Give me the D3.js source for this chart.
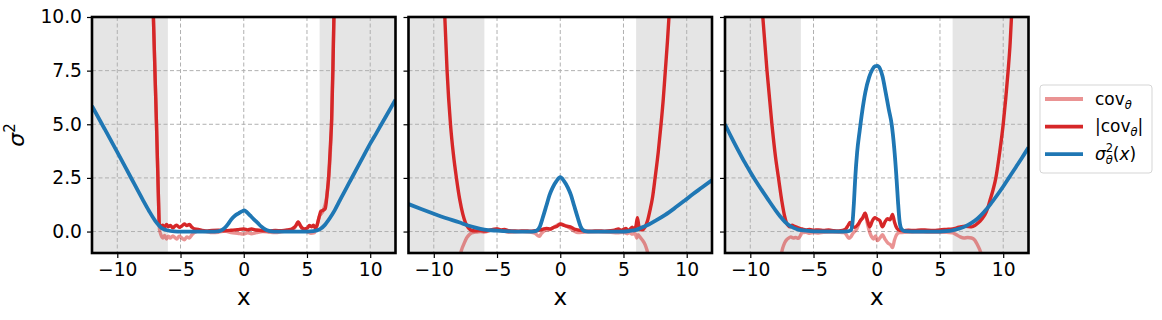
<!DOCTYPE html>
<html>
<head>
<meta charset="utf-8">
<script src="https://cdn.jsdelivr.net/npm/d3@7"></script>
<style>
	body { margin: 0; background: #fff; }
	svg { display: block; font-family: "DejaVu Sans", sans-serif; }
</style>
</head>
<body>
<svg id="chart" width="1162" height="320"></svg>
<script>
// ticks + shaded areas
const xTicks = [-10, -5, 0, 5, 10];
const yTicks = [0, 2.5, 5, 7.5, 10];
const shadeBands = [[-12, -6], [6, 12]];

// panel 1
const sigmaA = [[-12,5.85],[-11,4.78],[-10,3.7],[-9,2.6],[-8,1.5],[-7.5,0.97],[-7,0.5],[-6.5,0.17],[-6,0.05],[-5.5,0.01],[-5,0],[-2.5,0],
	[-2.1,0.01],[-1.8,0.05],[-1.5,0.17],[-1.2,0.38],[-1.0,0.56],[-0.7,0.74],[-0.4,0.85],[-0.15,0.94],[0.05,0.99],[0.25,0.9],[0.5,0.75],[0.8,0.57],
	[1.1,0.4],[1.4,0.23],[1.7,0.1],[2.0,0.03],[2.4,0],[5,0],[5.5,0.02],[6,0.1],[6.4,0.3],[6.8,0.62],[7.2,1.0],[7.6,1.45],[8,1.9],[8.5,2.45],
	[9,3.0],[9.5,3.55],[10,4.1],[10.5,4.6],[11,5.12],[11.5,5.63],[12,6.15]];
const absCovA = [[-7.16,10.3],[-7.0,7.0],[-6.9,5.0],[-6.8,2.8],[-6.72,1.0],[-6.68,0.35],[-6.55,0.25],[-6.4,0.3],[-6.25,0.2],[-6.1,0.33],
	[-5.95,0.22],[-5.8,0.28],[-5.6,0.17],[-5.45,0.25],[-5.3,0.3],[-5.1,0.2],[-4.9,0.26],[-4.7,0.35],[-4.5,0.28],[-4.3,0.33],[-4.1,0.2],
	[-3.9,0.12],[-3.6,0.1],[-3.3,0.05],[-3.0,0.03],[-2.5,0.05],[-2.0,0.06],[-1.5,0.04],[-1.0,0.06],[-0.5,0.09],[0,0.12],[0.3,0.08],[0.6,0.12],
	[1.0,0.07],[1.5,0.04],[2.0,0.03],[2.5,0.05],[3.0,0.04],[3.5,0.08],[3.8,0.12],[4.0,0.2],[4.15,0.3],[4.3,0.45],[4.45,0.3],[4.6,0.18],
	[4.8,0.12],[5.0,0.15],[5.2,0.28],[5.35,0.22],[5.5,0.3],[5.65,0.18],[5.8,0.3],[5.95,0.65],[6.1,0.95],[6.3,1.0],[6.45,1.08],[6.6,1.8],
	[6.72,2.6],[6.85,4.0],[6.95,5.2],[7.05,7.5],[7.14,10.3]];
const covA = [[-7.16,10.3],[-6.9,5.0],[-6.72,1.0],[-6.66,0.1],[-6.55,-0.15],[-6.4,-0.3],[-6.25,-0.18],[-6.1,-0.35],[-5.95,-0.22],[-5.8,-0.3],
	[-5.6,-0.2],[-5.45,-0.28],[-5.3,-0.35],[-5.1,-0.22],[-4.9,-0.3],[-4.7,-0.38],[-4.5,-0.25],[-4.3,-0.3],[-4.1,-0.15],[-3.9,-0.05],[-3.5,0.02],
	[-3.0,0],[-2.5,-0.05],[-2.0,-0.03],[-1.5,0.02],[-1.0,-0.05],[-0.5,-0.08],[0,-0.12],[0.3,-0.06],[0.6,-0.1],[1.0,-0.05],[1.5,0],[2.0,-0.03],
	[2.5,-0.05],[3.0,0],[3.5,0.05],[4.0,0.15],[4.3,0.45],[4.6,0.15],[5.0,0.0],[5.3,-0.08],[5.6,-0.05],[5.8,0.3],[5.95,0.65],[6.3,1.0],
	[6.6,1.8],[6.95,5.2],[7.14,10.3]];

// panel 2
const sigmaB = [[-12,1.28],[-11,1.05],[-10,0.83],[-9,0.62],[-8,0.43],[-7.3,0.28],[-6.7,0.18],[-6,0.09],[-5,0.04],[-4,0.01],[-3,0],[-2.2,0],
	[-1.9,0.03],[-1.6,0.25],[-1.37,0.67],[-1.1,1.2],[-0.85,1.7],[-0.6,2.05],[-0.3,2.35],[0,2.53],[0.3,2.35],[0.6,2.05],[0.85,1.7],[1.1,1.2],
	[1.37,0.67],[1.6,0.25],[1.9,0.03],[2.2,0],[5,0],[5.5,0.03],[6,0.08],[6.4,0.18],[7,0.33],[7.6,0.53],[8.3,0.78],[9,1.07],[9.85,1.45],
	[10.5,1.75],[11.2,2.05],[12,2.4]];
const absCovB = [[-9.15,10.3],[-8.95,7.5],[-8.68,5.0],[-8.45,3.6],[-8.21,2.5],[-7.95,1.5],[-7.7,0.8],[-7.5,0.42],[-7.3,0.2],[-7.1,0.08],
	[-6.7,0.03],[-6.3,0.05],[-6.0,0.02],[-5.6,0.06],[-5.3,0.1],[-5.0,0.12],[-4.7,0.08],[-4.4,0.1],[-4.1,0.04],[-3.7,0.03],[-3.3,0.02],
	[-2.8,0.03],[-2.4,0.02],[-2.0,0.04],[-1.7,0.06],[-1.4,0.1],[-1.1,0.15],[-0.8,0.12],[-0.5,0.2],[-0.25,0.25],[0,0.35],[0.25,0.3],[0.5,0.25],
	[0.8,0.22],[1.1,0.12],[1.4,0.08],[1.7,0.04],[2.0,0.02],[2.5,0.02],[3,0.03],[3.5,0.02],[4.0,0.04],[4.3,0.07],[4.6,0.12],[4.8,0.06],
	[5.0,0.1],[5.2,0.15],[5.35,0.05],[5.5,0.1],[5.7,0.2],[5.85,0.05],[6.0,0.3],[6.1,0.65],[6.2,0.3],[6.3,0.1],[6.5,0.08],[6.7,0.2],
	[6.9,0.5],[7.1,1.0],[7.3,1.6],[7.5,2.5],[7.75,3.7],[7.97,5.0],[8.15,6.2],[8.31,7.5],[8.47,8.8],[8.63,10.3]];
const covB = [[-7.95,-1.2],[-7.8,-0.85],[-7.6,-0.55],[-7.4,-0.3],[-7.2,-0.15],[-7.0,-0.06],[-6.7,-0.03],[-6.3,0.0],[-6.0,-0.02],[-5.6,0.04],
	[-5.3,0.1],[-5.0,0.12],[-4.7,0.05],[-4.4,0.02],[-4.1,-0.03],[-3.7,-0.02],[-3,0],[-2.4,-0.02],[-2.0,-0.08],[-1.8,-0.18],[-1.65,-0.22],
	[-1.5,-0.1],[-1.2,0.05],[-0.8,0.1],[-0.5,0.2],[0,0.35],[0.5,0.25],[0.8,0.15],[1.1,0.02],[1.4,-0.05],[1.7,-0.04],[2.0,-0.02],[3,-0.01],
	[4.0,-0.03],[4.5,-0.06],[5.0,-0.04],[5.3,-0.1],[5.5,-0.05],[5.7,-0.12],[5.9,-0.08],[6.05,-0.3],[6.15,-0.15],[6.3,-0.25],[6.5,-0.4],
	[6.7,-0.6],[6.85,-0.85],[7.0,-1.2]];

// panel 3
const sigmaC = [[-12,5.0],[-11.5,4.4],[-11,3.83],[-10.5,3.28],[-10,2.78],[-9.5,2.3],[-9,1.85],[-8.6,1.5],[-8,0.99],[-7.6,0.68],[-7.26,0.45],
	[-6.8,0.24],[-6.3,0.11],[-5.8,0.05],[-5,0.01],[-3,0],[-2.3,0.01],[-2.05,0.06],[-1.92,0.4],[-1.8,1.4],[-1.7,2.5],[-1.55,3.7],[-1.35,4.7],
	[-1.15,5.6],[-0.9,6.5],[-0.6,7.2],[-0.35,7.55],[-0.15,7.7],[0.05,7.72],[0.25,7.6],[0.45,7.25],[0.7,6.5],[0.95,5.7],[1.18,5.0],[1.38,3.9],
	[1.55,2.6],[1.68,1.4],[1.8,0.5],[1.95,0.12],[2.2,0.02],[2.8,0],[5,0],[5.5,0.02],[6,0.06],[6.5,0.13],[7,0.24],[7.5,0.4],[8,0.62],
	[8.5,0.92],[9,1.28],[9.5,1.68],[10,2.1],[10.5,2.55],[11,3.0],[11.5,3.45],[12,3.92]];
const absCovC = [[-9.05,10.3],[-8.68,7.5],[-8.29,5.0],[-8.0,3.45],[-7.77,2.5],[-7.5,1.4],[-7.3,0.75],[-7.15,0.42],[-7.0,0.28],
	[-6.85,0.22],[-6.7,0.3],[-6.5,0.24],[-6.3,0.2],[-6.1,0.15],[-5.9,0.12],[-5.6,0.08],[-5.3,0.1],[-5.0,0.06],[-4.6,0.08],[-4.2,0.05],
	[-3.8,0.07],[-3.4,0.04],[-3.0,0.03],[-2.7,0.05],[-2.45,0.12],[-2.25,0.3],[-2.1,0.42],[-1.95,0.25],[-1.75,0.2],[-1.5,0.32],[-1.3,0.5],
	[-1.1,0.65],[-0.92,0.85],[-0.75,0.55],[-0.55,0.22],[-0.35,0.5],[-0.15,0.65],[0.05,0.58],[0.25,0.5],[0.45,0.22],[0.65,0.45],[0.85,0.6],
	[1.05,0.55],[1.25,0.8],[1.4,0.45],[1.6,0.15],[1.8,0.06],[2.1,0.04],[2.5,0.06],[3,0.05],[3.5,0.08],[4,0.06],[4.5,0.05],[5,0.08],
	[5.5,0.1],[6,0.12],[6.5,0.2],[7,0.25],[7.5,0.22],[7.8,0.3],[8.05,0.42],[8.3,0.58],[8.55,0.78],[8.75,1.05],[8.95,1.45],[9.2,1.95],
	[9.42,2.5],[9.7,3.6],[10.0,5.0],[10.2,6.2],[10.39,7.5],[10.55,8.8],[10.68,10.3]];
const covC = [[-7.6,-1.2],[-7.45,-0.8],[-7.3,-0.55],[-7.15,-0.4],[-7.0,-0.32],[-6.8,-0.25],[-6.6,-0.3],[-6.4,-0.28],[-6.2,-0.32],[-6.05,-0.2],
	[-5.9,-0.05],[-5.6,-0.04],[-5.3,-0.08],[-5.0,-0.05],[-4.6,-0.07],[-4.2,-0.03],[-3.5,-0.02],[-3.0,-0.03],[-2.6,-0.05],[-2.4,-0.15],
	[-2.2,-0.32],[-2.05,-0.25],[-1.9,-0.1],[-1.6,0.1],[-1.3,0.5],[-1.1,0.65],[-0.92,0.85],[-0.75,0.4],[-0.55,-0.05],[-0.4,-0.25],[-0.25,-0.35],
	[-0.1,-0.2],[0.05,-0.42],[0.25,-0.3],[0.45,-0.15],[0.65,-0.35],[0.9,-0.55],[1.1,-0.62],[1.25,-0.75],[1.4,-0.4],[1.6,-0.12],[1.8,-0.05],
	[2.2,-0.03],[3,-0.02],[4,-0.03],[5,-0.04],[5.5,-0.03],[6,-0.06],[6.3,-0.15],[6.6,-0.25],[6.9,-0.3],[7.2,-0.28],[7.5,-0.3],[7.75,-0.4],
	[7.95,-0.6],[8.15,-0.85],[8.35,-1.2]];

const panels = [
	{ sigma: sigmaA, abs: absCovA, cov: covA },
	{ sigma: sigmaB, abs: absCovB, cov: covB },
	{ sigma: sigmaC, abs: absCovC, cov: covC }
];

const RED = "#d62728", BLUE = "#1f77b4";
const lefts = [92, 408.5, 725];
const pw = 303.5, plotTop = 17, plotBottom = 253;

const svg = d3.select("#chart");
const y = d3.scaleLinear().domain([-1, 10]).range([plotBottom, plotTop]);

panels.forEach(function(p, i) {
	const x = d3.scaleLinear().domain([-12, 12]).range([lefts[i], lefts[i] + pw]);
	const g = svg.append("g");

	g.append("clipPath").attr("id", "clip" + i)
		.append("rect").attr("x", lefts[i]).attr("y", plotTop).attr("width", pw).attr("height", plotBottom - plotTop);

	// grey bands outside |x|>6
	g.selectAll("rect.band").data(shadeBands).join("rect")
		.attr("class", "band")
		.attr("x", d => x(d[0])).attr("width", d => x(d[1]) - x(d[0]))
		.attr("y", plotTop).attr("height", plotBottom - plotTop)
		.attr("fill", "#e5e5e5");

	// grid
	g.selectAll("line.gx").data(xTicks).join("line")
		.attr("x1", d => x(d)).attr("x2", d => x(d)).attr("y1", plotTop).attr("y2", plotBottom)
		.attr("stroke", "#b0b0b0").attr("stroke-width", 1).attr("stroke-dasharray", "4,2.5");
	g.selectAll("line.gy").data(yTicks).join("line")
		.attr("x1", lefts[i]).attr("x2", lefts[i] + pw).attr("y1", d => y(d)).attr("y2", d => y(d))
		.attr("stroke", "#b0b0b0").attr("stroke-width", 1).attr("stroke-dasharray", "4,2.5");

	const line = d3.line().x(d => x(d[0])).y(d => y(d[1])).curve(d3.curveMonotoneX);
	const lines = g.append("g").attr("clip-path", "url(#clip" + i + ")");
	lines.append("path").datum(p.cov).attr("d", line)
		.attr("fill", "none").attr("stroke", RED).attr("stroke-opacity", 0.5).attr("stroke-width", 3.4)
		.attr("stroke-linejoin", "round");
	lines.append("path").datum(p.abs).attr("d", line)
		.attr("fill", "none").attr("stroke", RED).attr("stroke-width", 3.4).attr("stroke-linejoin", "round");
	lines.append("path").datum(p.sigma).attr("d", line)
		.attr("fill", "none").attr("stroke", BLUE).attr("stroke-width", 3.8).attr("stroke-linejoin", "round");

	// axes
	const xAxis = d3.axisBottom(x).tickValues(xTicks).tickSize(5).tickPadding(5)
		.tickFormat(d => d < 0 ? "\u2212" + Math.abs(d) : d);
	const ax = g.append("g").attr("transform", `translate(0,${plotBottom})`).call(xAxis);
	const yAxis = d3.axisLeft(y).tickValues(yTicks).tickSize(5).tickPadding(5)
		.tickFormat(i == 0 ? d3.format(".1f") : () => "");
	const ay = g.append("g").attr("transform", `translate(${lefts[i]},0)`).call(yAxis);
	[ax, ay].forEach(function(a) {
		a.select(".domain").remove();
		a.selectAll(".tick line").attr("stroke", "#000").attr("stroke-width", 1.2);
		a.selectAll(".tick text").attr("fill", "#000").attr("font-size", 18.7)
			.attr("font-family", "DejaVu Sans");
	});

	g.append("rect").attr("x", lefts[i]).attr("y", plotTop).attr("width", pw).attr("height", plotBottom - plotTop)
		.attr("fill", "none").attr("stroke", "#000").attr("stroke-width", 2.6);

	g.append("text").attr("x", x(0)).attr("y", 305).attr("text-anchor", "middle")
		.attr("font-size", 23).text("x");
});

// y label
const yl = svg.append("text").attr("transform", "translate(23.5,135) rotate(-90)")
	.attr("text-anchor", "middle").attr("font-size", 22);
yl.append("tspan").attr("font-style", "italic").text("σ");
yl.append("tspan").attr("font-size", 15).attr("dy", -9).text("2");

// legend
const legendItems = [
	{ key: "cov", color: RED, opacity: 0.5 },
	{ key: "abs", color: RED, opacity: 1 },
	{ key: "sigma", color: BLUE, opacity: 1 }
];
const lg = svg.append("g");
lg.append("rect").attr("x", 1040).attr("y", 85).attr("width", 112).attr("height", 88).attr("rx", 3)
	.attr("fill", "#fff").attr("stroke", "#d5d5d5").attr("stroke-width", 1);
legendItems.forEach(function(it, k) {
	const ly = 99 + k * 27.6;
	lg.append("line").attr("x1", 1045).attr("x2", 1083).attr("y1", ly).attr("y2", ly)
		.attr("stroke", it.color).attr("stroke-opacity", it.opacity).attr("stroke-width", 3.8);
	const t = lg.append("text").attr("x", 1095).attr("y", ly + 5.5).attr("font-size", 17);
	if (it.key == "sigma") {
		t.append("tspan").attr("font-style", "italic").text("σ");
		t.append("tspan").attr("font-size", 11.5).attr("dy", -7.5).text("2");
		t.append("tspan").attr("font-size", 11.5).attr("font-style", "italic").attr("dx", -7.3).attr("dy", 12).text("θ");
		t.append("tspan").attr("dy", -4.5).text("(");
		t.append("tspan").attr("font-style", "italic").text("x");
		t.append("tspan").text(")");
	} else {
		if (it.key == "abs") t.append("tspan").text("|");
		t.append("tspan").text("cov");
		t.append("tspan").attr("font-size", 11.5).attr("font-style", "italic").attr("dy", 4).text("θ");
		if (it.key == "abs") t.append("tspan").attr("dy", -4).text("|");
	}
});
</script>
</body>
</html>
